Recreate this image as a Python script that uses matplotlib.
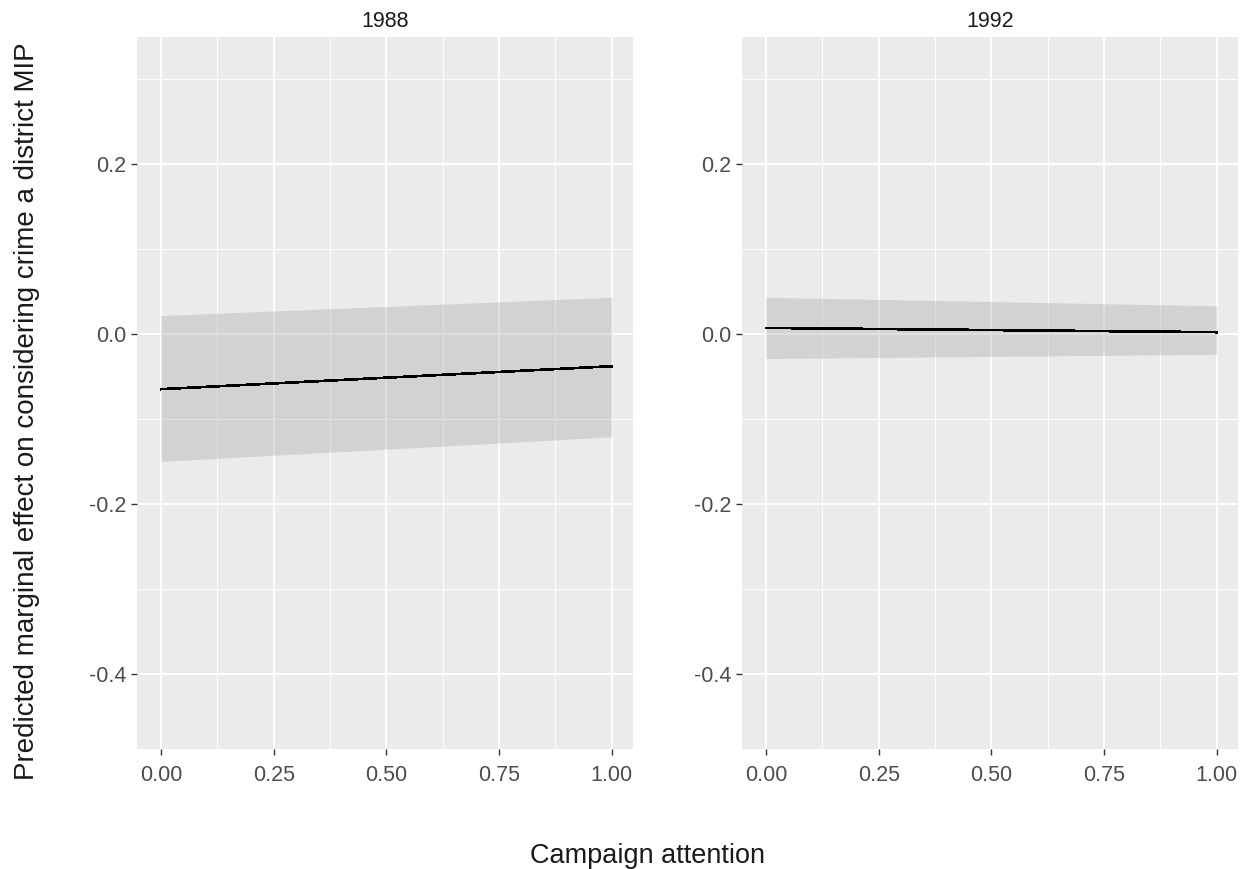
import numpy as np
import matplotlib
matplotlib.use('Agg')
import matplotlib.pyplot as plt
from matplotlib.ticker import MultipleLocator

plt.rcParams['font.family'] = ['Liberation Sans', 'DejaVu Sans']

# marginal effect estimates, evaluated at the ends of the attention range
years = ['1988', '1992']
attention = [0.0, 1.0]
effect = {'1988': [-0.065, -0.038], '1992': [0.007, 0.002]}
ci_low = {'1988': [-0.150, -0.121], '1992': [-0.029, -0.024]}
ci_high = {'1988': [0.0215, 0.043], '1992': [0.043, 0.033]}

x_ticks = [0.0, 0.25, 0.5, 0.75, 1.0]
x_labels = ['0.00', '0.25', '0.50', '0.75', '1.00']
y_ticks = [-0.4, -0.2, 0.0, 0.2]
y_labels = ['-0.4', '-0.2', '0.0', '0.2']

fig = plt.figure(figsize=(12.47, 8.69), dpi=100)
fig.patch.set_facecolor('white')

lefts = [137 / 1247, 742 / 1247]
for yr, left in zip(years, lefts):
    ax = fig.add_axes([left, 1 - 749 / 869, 496 / 1247, 712 / 869])
    ax.set_facecolor('#EBEBEB')
    for s in ax.spines.values():
        s.set_visible(False)

    ax.fill_between(attention, ci_low[yr], ci_high[yr], color='#999999',
                    alpha=0.3, linewidth=0, antialiased=False, zorder=3)
    ax.plot(attention, effect[yr], color='black', linewidth=1.2,
            antialiased=False, zorder=4)

    ax.set_xlim(-0.053, 1.047)
    ax.set_ylim(-0.488, 0.349)
    ax.set_xticks(x_ticks)
    ax.set_xticklabels(x_labels)
    ax.set_yticks(y_ticks)
    ax.set_yticklabels(y_labels)
    ax.xaxis.set_minor_locator(MultipleLocator(0.125))
    ax.set_yticks([-0.3, -0.1, 0.1, 0.3], minor=True)
    ax.grid(which='major', color='white', linewidth=1.4, zorder=1)
    ax.grid(which='minor', color='white', linewidth=0.7, zorder=1)
    ax.set_axisbelow(True)
    ax.tick_params(which='major', length=4.5, width=1, color='#333333',
                   labelcolor='#4D4D4D', labelsize=15.5, pad=3)
    ax.tick_params(axis='x', which='major', pad=7)
    ax.tick_params(which='minor', length=0)

    ax.set_title(yr, fontsize=15.5, color='#1A1A1A', pad=7)

fig.text(648 / 1247, 1 - 856 / 869, 'Campaign attention', ha='center',
         va='center', fontsize=19.5, color='#1A1A1A')
fig.text(27 / 1247, 1 - 411 / 869,
         'Predicted marginal effect on considering crime a district MIP',
         rotation=90, ha='center', va='center', fontsize=20,
         color='#1A1A1A')

fig.savefig('out.png', dpi=100)
